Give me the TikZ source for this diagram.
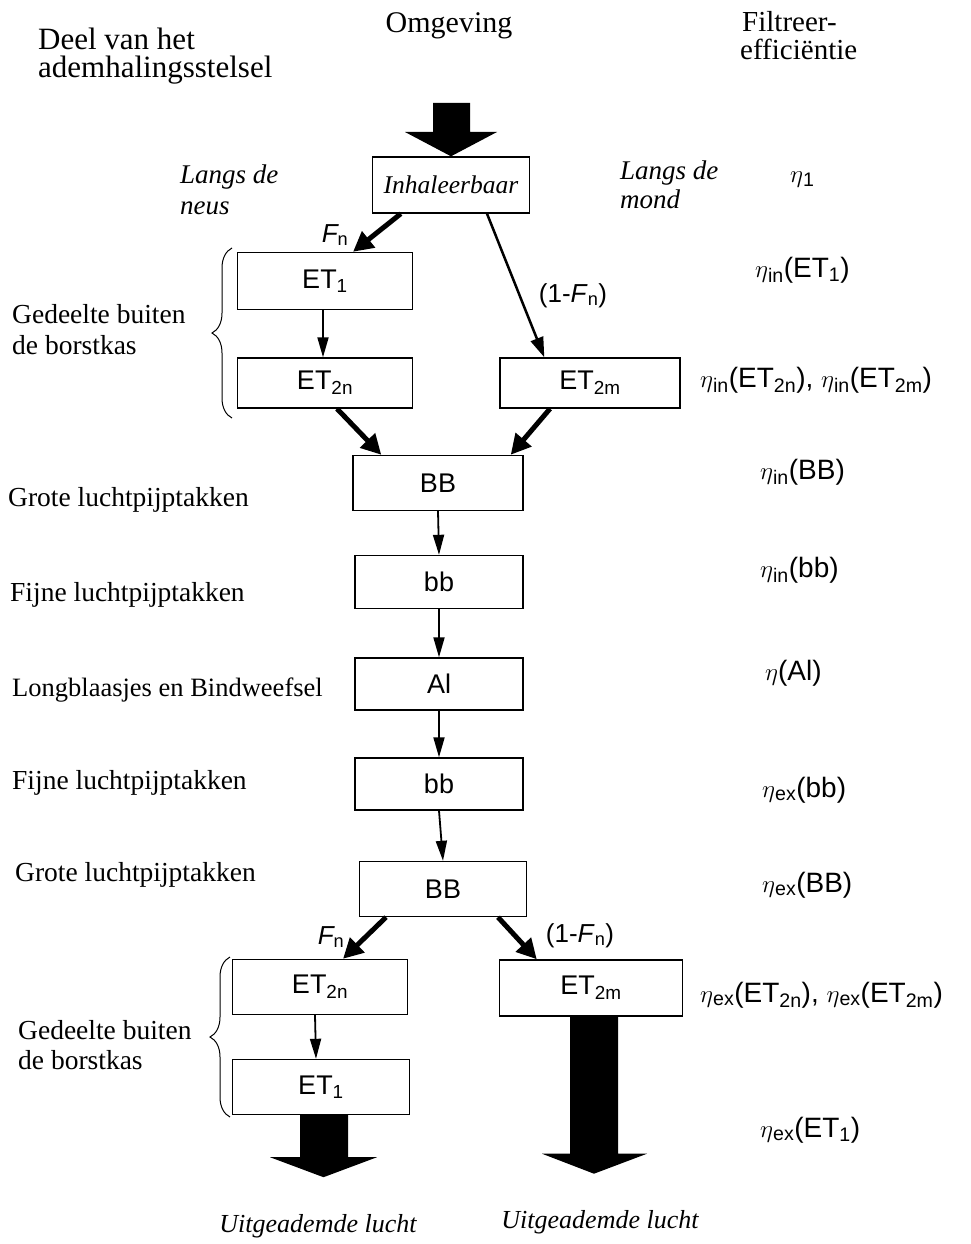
\documentclass[tikz,border=0pt]{standalone}
\usepackage{fontspec}
\setmainfont{Liberation Serif}
\newfontfamily\sansf{Liberation Sans}
\usetikzlibrary{arrows.meta,decorations.pathreplacing}
\newcommand{\sub}[1]{\textsubscript{#1}}
\begin{document}
\begin{tikzpicture}[x=1pt,y=-1pt,
  box/.style={draw,line width=1.4pt,minimum width=172pt,minimum height=54pt,inner sep=0pt,font=\sansf\fontsize{27}{31}\selectfont},
  thinarr/.style={line width=1.8pt,-{Triangle[length=20pt,width=11pt]}},
  thickarr/.style={line width=5pt,-{Triangle[length=20pt,width=20pt]}},
  lab/.style={anchor=base west,inner sep=0pt,font=\fontsize{27.5}{32}\selectfont},
  ilab/.style={anchor=base west,inner sep=0pt,font=\itshape\fontsize{27}{31}\selectfont},
  eta/.style={anchor=base west,inner sep=0pt,font=\sansf\fontsize{28}{32}\selectfont},
  flab/.style={anchor=base,inner sep=0pt,font=\sansf\fontsize{26}{30}\selectfont},
  bigarr/.style={fill=black},
  brc/.style={decorate,decoration={brace,amplitude=20pt,aspect=0.5},line width=1pt}]
\useasboundingbox (0,0) rectangle (970,1244);

% headers
\node[lab,font=\fontsize{31}{35}\selectfont] (h1) at (38,50) {Deel van het};
\node[lab,font=\fontsize{31}{35}\selectfont] (h2) at (38,78) {ademhalingsstelsel};
\node[lab,anchor=base,font=\fontsize{30}{34}\selectfont] (h3) at (449,33) {Omgeving};
\node[lab,font=\fontsize{29}{33}\selectfont] (h4) at (742,32) {Filtreer-};
\node[lab,font=\fontsize{29}{33}\selectfont] (h5) at (740,60) {efficiëntie};

% boxes
\node[box,minimum width=157pt,minimum height=56pt,font=\itshape\fontsize{25.5}{29}\selectfont] (inh) at (451,185) {Inhaleerbaar};
\node[box,minimum width=175pt,minimum height=57pt] (et1a) at (325,281) {ET\sub{1}};
\node[box,minimum width=175pt,minimum height=50pt] (et2na) at (325,383) {ET\sub{2n}};
\node[box,minimum width=180pt,minimum height=50pt] (et2ma) at (590,383) {ET\sub{2m}};
\node[box,minimum width=170pt,minimum height=55pt] (BBa) at (438,483) {BB};
\node[box,minimum width=168pt,minimum height=53pt] (bba) at (439,582) {bb};
\node[box,minimum width=168pt,minimum height=52pt] (al) at (439,684) {Al};
\node[box,minimum width=168pt,minimum height=52pt] (bbb) at (439,784) {bb};
\node[box,minimum width=167pt,minimum height=55pt] (BBb) at (443,889) {BB};
\node[box,minimum width=175pt,minimum height=55pt] (et2nb) at (320,987) {ET\sub{2n}};
\node[box,minimum width=183pt,minimum height=56pt] (et2mb) at (591,988) {ET\sub{2m}};
\node[box,minimum width=177pt,minimum height=55pt] (et1b) at (321,1087) {ET\sub{1}};

% big arrows
\fill[bigarr] (433,103) -- (470,103) -- (470,132) -- (497,132) -- (inh.north) -- (405,132) -- (433,132) -- cycle;
\fill[bigarr] ([xshift=-21pt]et1b.south) -- ([xshift=27pt]et1b.south) -- ([xshift=27pt,yshift=-42pt]et1b.south) -- ++(29pt,0) -- ([xshift=2.5pt,yshift=-62pt]et1b.south) -- ([xshift=-51pt,yshift=-42pt]et1b.south) -- ++(30pt,0) -- cycle;
\fill[bigarr] ([xshift=-21pt]et2mb.south) -- ([xshift=27pt]et2mb.south) -- ([xshift=27pt,yshift=-137pt]et2mb.south) -- ++(29pt,0) -- ([xshift=3pt,yshift=-157pt]et2mb.south) -- ([xshift=-49pt,yshift=-137pt]et2mb.south) -- ++(28pt,0) -- cycle;

% connectors
\draw[thickarr] ([xshift=29pt]inh.south west) -- ([xshift=28pt]et1a.north);
\draw[line width=2.5pt,-{Triangle[length=20pt,width=13pt]}] ([xshift=36pt]inh.south) -- ([xshift=45pt]et2ma.north west);
\draw[thinarr] ([xshift=-2pt]et1a.south) -- ([xshift=-2pt]et2na.north);
\draw[thickarr] ([xshift=12pt]et2na.south) -- ([xshift=29pt]BBa.north west);
\draw[thickarr] ([xshift=-40pt]et2ma.south) -- ([xshift=-13pt]BBa.north east);
\draw[thinarr] (BBa.south) -- (bba.north);
\draw[thinarr] (bba.south) -- (al.north);
\draw[thinarr] (al.south) -- (bbb.north);
\draw[thinarr] (bbb.south) -- (BBb.north);
\draw[thickarr] ([xshift=-57pt]BBb.south) -- ([xshift=23pt]et2nb.north);
\draw[thickarr] ([xshift=55pt]BBb.south) -- ([xshift=38pt]et2mb.north west);
\draw[thinarr] ([xshift=-5pt]et2nb.south) -- ([xshift=-5pt]et1b.south |- et1b.north);

% connector labels
\node[flab] (f1) at (335,242) {\itshape F\sub{\upshape n}};
\node[flab] (f2) at (573,302) {(1-\textit{F}\sub{n})};
\node[flab] (f3) at (331,944) {\itshape F\sub{\upshape n}};
\node[flab] (f4) at (580,942) {(1-\textit{F}\sub{n})};

% italic labels
\node[ilab] (ln1) at (180,183) {Langs de};
\node[ilab] (ln2) at (180,214) {neus};
\node[ilab] (lm1) at (620,179) {Langs de};
\node[ilab] (lm2) at (620,208) {mond};

% left labels
\node[lab] (g1) at (12,323) {Gedeelte buiten};
\node[lab] (g2) at (12,354) {de borstkas};
\node[lab] (l1) at (8,506) {Grote luchtpijptakken};
\node[lab] (l2) at (10,601) {Fijne luchtpijptakken};
\node[lab,font=\fontsize{26.5}{31}\selectfont] (l3) at (12,696) {Longblaasjes en Bindweefsel};
\node[lab] (l4) at (12,789) {Fijne luchtpijptakken};
\node[lab] (l5) at (15,881) {Grote luchtpijptakken};
\node[lab] (g3) at (18,1039) {Gedeelte buiten};
\node[lab] (g4) at (18,1069) {de borstkas};

% braces
\draw[brc] (232,418) -- (232,248);
\draw[brc] (230,1117) -- (230,957);

% efficiencies
\node[eta] (e1) at (790,182) {$\eta$\sub{1}};
\node[eta] (e2) at (755,277) {$\eta$\sub{in}(ET\sub{1})};
\node[eta] (e3) at (700,387) {$\eta$\sub{in}(ET\sub{2n}), $\eta$\sub{in}(ET\sub{2m})};
\node[eta] (e4) at (760,479) {$\eta$\sub{in}(BB)};
\node[eta] (e5) at (760,577) {$\eta$\sub{in}(bb)};
\node[eta] (e6) at (765,680) {$\eta$(Al)};
\node[eta] (e7) at (762,797) {$\eta$\sub{ex}(bb)};
\node[eta] (e8) at (762,892) {$\eta$\sub{ex}(BB)};
\node[eta] (e9) at (700,1002) {$\eta$\sub{ex}(ET\sub{2n}), $\eta$\sub{ex}(ET\sub{2m})};
\node[eta] (e10) at (760,1137) {$\eta$\sub{ex}(ET\sub{1})};

% bottom labels
\node[ilab,anchor=base,font=\itshape\fontsize{26}{30}\selectfont] (u1) at (318,1232) {Uitgeademde lucht};
\node[ilab,anchor=base,font=\itshape\fontsize{26}{30}\selectfont] (u2) at (600,1228) {Uitgeademde lucht};
\end{tikzpicture}
\end{document}
